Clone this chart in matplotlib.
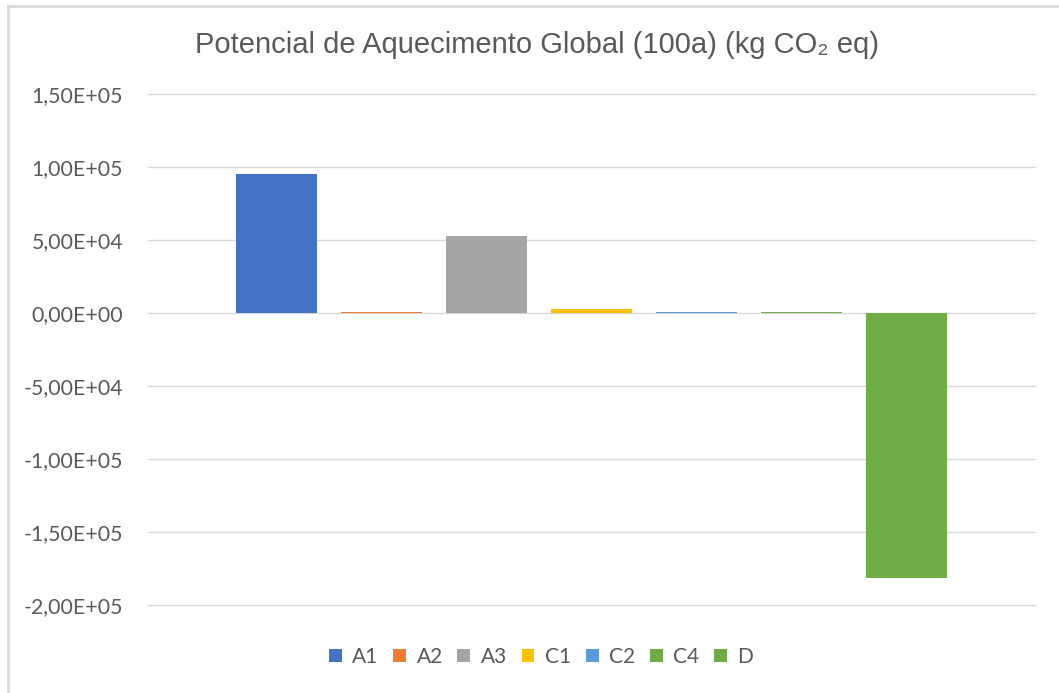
import matplotlib
matplotlib.use("Agg")
import matplotlib.pyplot as plt
from matplotlib.lines import Line2D

# Global warming potential per life-cycle module (kg CO2 eq)
modules = ["A1", "A2", "A3", "C1", "C2", "C4", "D"]
values = [95000, 900, 52800, 2700, 800, 700, -181500]
colors = ["#4472C4", "#ED7D31", "#A5A5A5", "#FFC000", "#5B9BD5", "#70AD47", "#70AD47"]

ytick_values = [150000, 100000, 50000, 0, -50000, -100000, -150000, -200000]
ytick_labels = ["1,50E+05", "1,00E+05", "5,00E+04", "0,00E+00",
                "-5,00E+04", "-1,00E+05", "-1,50E+05", "-2,00E+05"]

title = "Potencial de Aquecimento Global (100a) (kg CO\u2082 eq)"

W, H = 1059, 693
fig = plt.figure(figsize=(W / 100, H / 100), dpi=100)
fig.patch.set_facecolor("white")

# light chart-area frame (top and left edges)
frame_kw = dict(color="#d9d9d9", linewidth=2, transform=fig.transFigure)
fig.lines.append(Line2D([8 / W, 1], [1 - 6 / H, 1 - 6 / H], **frame_kw))
fig.lines.append(Line2D([8 / W, 8 / W], [0, 1 - 6 / H], **frame_kw))

ax = fig.add_axes([148 / W, 1 - 605 / H, (1035 - 148) / W, (605 - 94) / H])
ax.set_facecolor("white")

for i, (m, v, c) in enumerate(zip(modules, values, colors)):
    ax.bar(i, v, width=0.78, color=c, label=m, zorder=3)

ax.set_xlim(3 - 4.224, 3 + 4.224)
ax.set_ylim(-200000, 150000)
ax.set_yticks(ytick_values)
ax.set_yticklabels(ytick_labels)
ax.set_xticks([])
ax.yaxis.grid(True, color="#d9d9d9", linewidth=1.0, zorder=0)
for gl in ax.get_ygridlines():
    gl.set_clip_on(False)
ax.tick_params(axis="y", length=0, pad=18, labelsize=15.3, labelcolor="#595959")
for lab in ax.get_yticklabels():
    lab.set_fontfamily(["Lato", "DejaVu Sans"])
for s in ax.spines.values():
    s.set_visible(False)

fig.text(537 / W, 1 - 45 / H, title, ha="center", va="center", fontsize=21,
         color="#595959", family=["Liberation Sans", "DejaVu Sans"])

leg = ax.legend(loc="center", bbox_to_anchor=(541 / W, 1 - 657 / H),
                bbox_transform=fig.transFigure, ncol=7, frameon=False,
                handlelength=0.62, handleheight=0.62, handletextpad=0.5,
                columnspacing=0.7, prop={"family": ["Lato", "DejaVu Sans"], "size": 15})
for t in leg.get_texts():
    t.set_color("#595959")

fig.savefig("out.png", dpi=100, facecolor="white")
